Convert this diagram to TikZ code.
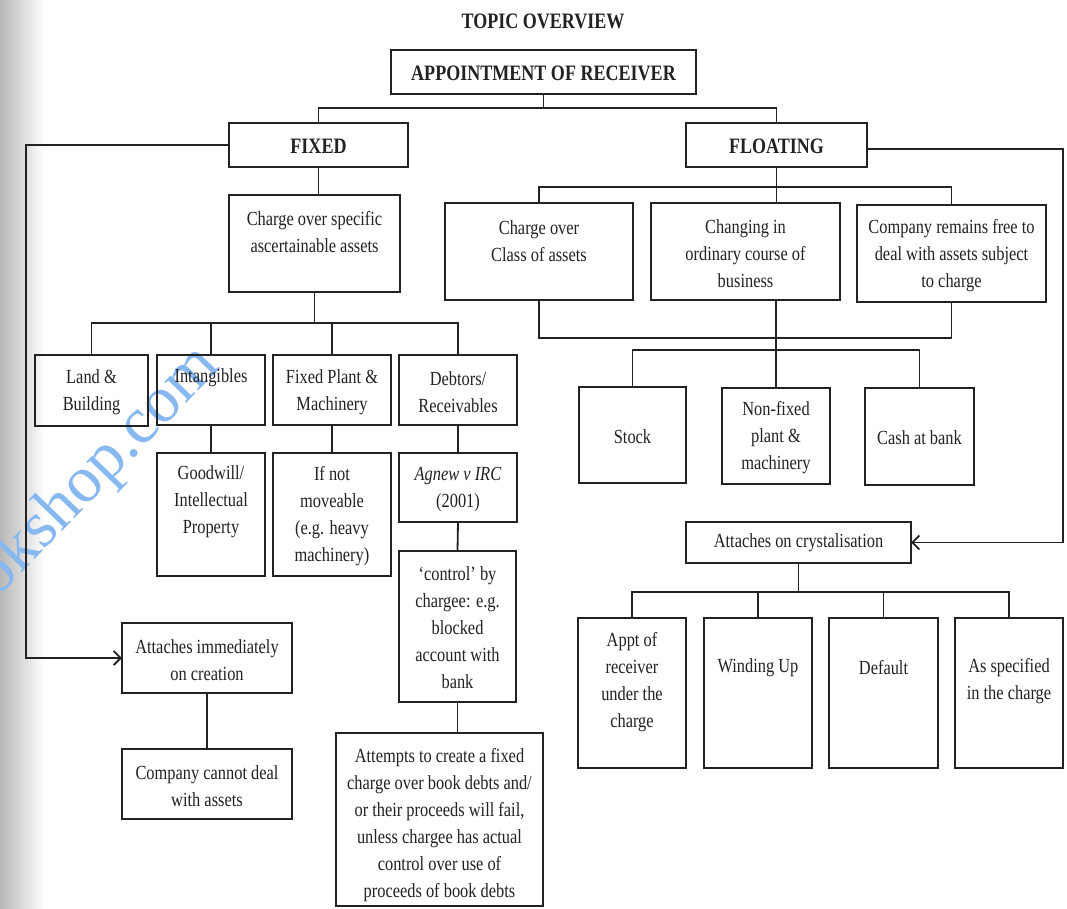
\documentclass[tikz,border=0pt]{standalone}
\usepackage{fontspec}
\setmainfont{Liberation Serif}[FakeStretch=0.82]
\newfontfamily\wmfont{Liberation Serif}
\usetikzlibrary{arrows.meta}
\definecolor{ink}{HTML}{222222}
\definecolor{wmblue}{RGB}{135,185,240}
\tikzset{
  box/.style={draw=ink, line width=1.8pt, rectangle, inner sep=0pt, outer sep=0pt},
  txt/.style={text=ink, align=center, inner sep=0pt, font=\fontsize{20}{27}\selectfont},
  head/.style={text=ink, align=center, inner sep=0pt, font=\fontsize{22}{27}\selectfont\bfseries},
  conn/.style={draw=ink, line width=1.8pt},
  arr/.style={-{Straight Barb[length=7pt,width=14pt,line width=1.8pt]}},
  wmark/.style={text=wmblue, inner sep=0pt, font=\wmfont\fontsize{66}{66}\selectfont}
}
\newcommand\mybox[5]{\node[box, minimum width={#4-#2}, minimum height={#5-#3}] (#1) at ({(#2+#4)/2},{(#3+#5)/2}) {};}
\begin{document}
\begin{tikzpicture}[x=1pt,y=-1pt]
\useasboundingbox (0,0) rectangle (1067,909);
\fill[white] (0,0) rectangle (1067,909);
\shade[left color=black!28, right color=white] (0,0) rectangle (45,909);

% watermark
\node[wmark, rotate=46] (wm) at (98,472) {okshop.com};

% title
\node[head] (title) at (543,21) {TOPIC OVERVIEW};

% boxes
\mybox{root}{391}{50}{696}{94}
\mybox{fixed}{229}{123}{408}{167}
\mybox{floating}{686}{123}{867}{167}
\mybox{spec}{229}{195}{400}{292}
\mybox{classa}{445}{203}{633}{300}
\mybox{chg}{651}{203}{840}{300}
\mybox{free}{857}{205}{1046}{302}
\mybox{land}{35}{355}{148}{426}
\mybox{intang}{157}{355}{265}{425}
\mybox{plant}{273}{355}{391}{425}
\mybox{debt}{399}{355}{517}{425}
\mybox{good}{157}{453}{265}{576}
\mybox{notmov}{273}{453}{391}{576}
\mybox{agnew}{399}{453}{517}{522}
\mybox{control}{399}{551}{516}{702}
\mybox{attempts}{336}{733}{543}{906}
\mybox{immed}{122}{623}{292}{693}
\mybox{cannot}{122}{749}{292}{819}
\mybox{stock}{579}{387}{686}{483}
\mybox{nonfix}{722}{388}{830}{484}
\mybox{cash}{865}{388}{974}{485}
\mybox{cryst}{686}{522}{911}{563}
\mybox{appt}{578}{618}{686}{768}
\mybox{wind}{704}{618}{812}{768}
\mybox{deflt}{829}{618}{938}{768}
\mybox{asspec}{955}{618}{1063}{768}

% texts
\node[head] (root-t) at (543.5,73) {APPOINTMENT OF RECEIVER};
\node[head] (fixed-t) at (318.5,146) {FIXED};
\node[head] (floating-t) at (776.5,146) {FLOATING};
\node[txt] (spec-t) at (314.5,232.5) {Charge over specific\\ascertainable assets};
\node[txt] (classa-t) at (539,241) {Charge over\\Class of assets};
\node[txt] (chg-t) at (745.5,254) {Changing in\\ordinary course of\\business};
\node[txt] (free-t) at (951.5,256) {Company remains free to\\deal with assets subject\\to charge};
\node[txt] (land-t) at (91.5,392) {Land \&\\Building};
\node[txt] (intang-t) at (211,378) {Intangibles};
\node[txt] (plant-t) at (332,392) {Fixed Plant \&\\Machinery};
\node[txt] (debt-t) at (458,392) {Debtors/\\Receivables};
\node[txt] (good-t) at (211,502) {Goodwill/\\Intellectual\\Property};
\node[txt] (notmov-t) at (332,516) {If not\\moveable\\(e.g. heavy\\machinery)};
\node[txt] (agnew-t) at (458,490) {\textit{Agnew v IRC}\\(2001)};
\node[txt] (control-t) at (457.5,628) {‘control’ by\\chargee: e.g.\\blocked\\account with\\bank};
\node[txt] (attempts-t) at (439.5,825) {Attempts to create a fixed\\charge over book debts and/\\or their proceeds will fail,\\unless chargee has actual\\control over use of\\proceeds of book debts};
\node[txt] (immed-t) at (207,660.5) {Attaches immediately\\on creation};
\node[txt] (cannot-t) at (207,786.5) {Company cannot deal\\with assets};
\node[txt] (stock-t) at (632.5,437) {Stock};
\node[txt] (nonfix-t) at (776,438) {Non-fixed\\plant \&\\machinery};
\node[txt] (cash-t) at (919.5,438) {Cash at bank};
\node[txt] (cryst-t) at (798.5,543) {Attaches on crystalisation};
\node[txt] (appt-t) at (632,682) {Appt of\\receiver\\under the\\charge};
\node[txt] (wind-t) at (758,668) {Winding Up};
\node[txt] (deflt-t) at (883.5,668) {Default};
\node[txt] (asspec-t) at (1009,681.5) {As specified\\in the charge};

% connectors
\draw[conn] (root.south) -- ++(0,14) -| (fixed.north);
\draw[conn] (root.south) -- ++(0,14) -| (floating.north);
\draw[conn] (fixed.south) -- (fixed.south |- spec.north);
\draw[conn,arr] (fixed.west) -- ++(-203,0) |- (immed.west);
\draw[conn,arr] ([yshift=-4pt]floating.east) -- ++(196,0) |- (cryst.east);

\draw[conn] (floating.south) -- (floating.south |- chg.north);
\draw[conn] (classa.north) -- ++(0,-16) -| (free.north);
\draw[conn] (classa.south) -- ++(0,38) -| (free.south);
\draw[conn] (nonfix.north |- chg.south) -- (nonfix.north);
\draw[conn] (stock.north) -- ++(0,-37) -| (cash.north);

\draw[conn] (spec.south) -- ++(0,31);
\draw[conn] (land.north) -- ++(0,-32) -| (debt.north);
\draw[conn] (intang.north) -- ++(0,-32);
\draw[conn] (plant.north) -- ++(0,-32);
\draw[conn] (intang.south) -- (good.north);
\draw[conn] (plant.south) -- (notmov.north);
\draw[conn] (debt.south) -- (agnew.north);
\draw[conn] (agnew.south) -- (control.north);
\draw[conn] (control.south) -- (control.south |- attempts.north);
\draw[conn] (immed.south) -- (cannot.north);

\draw[conn] (cryst.south) -- ++(0,29);
\draw[conn] (appt.north) -- ++(0,-26) -| (asspec.north);
\draw[conn] (wind.north) -- ++(0,-26);
\draw[conn] (deflt.north) -- ++(0,-26);
\end{tikzpicture}
\end{document}
